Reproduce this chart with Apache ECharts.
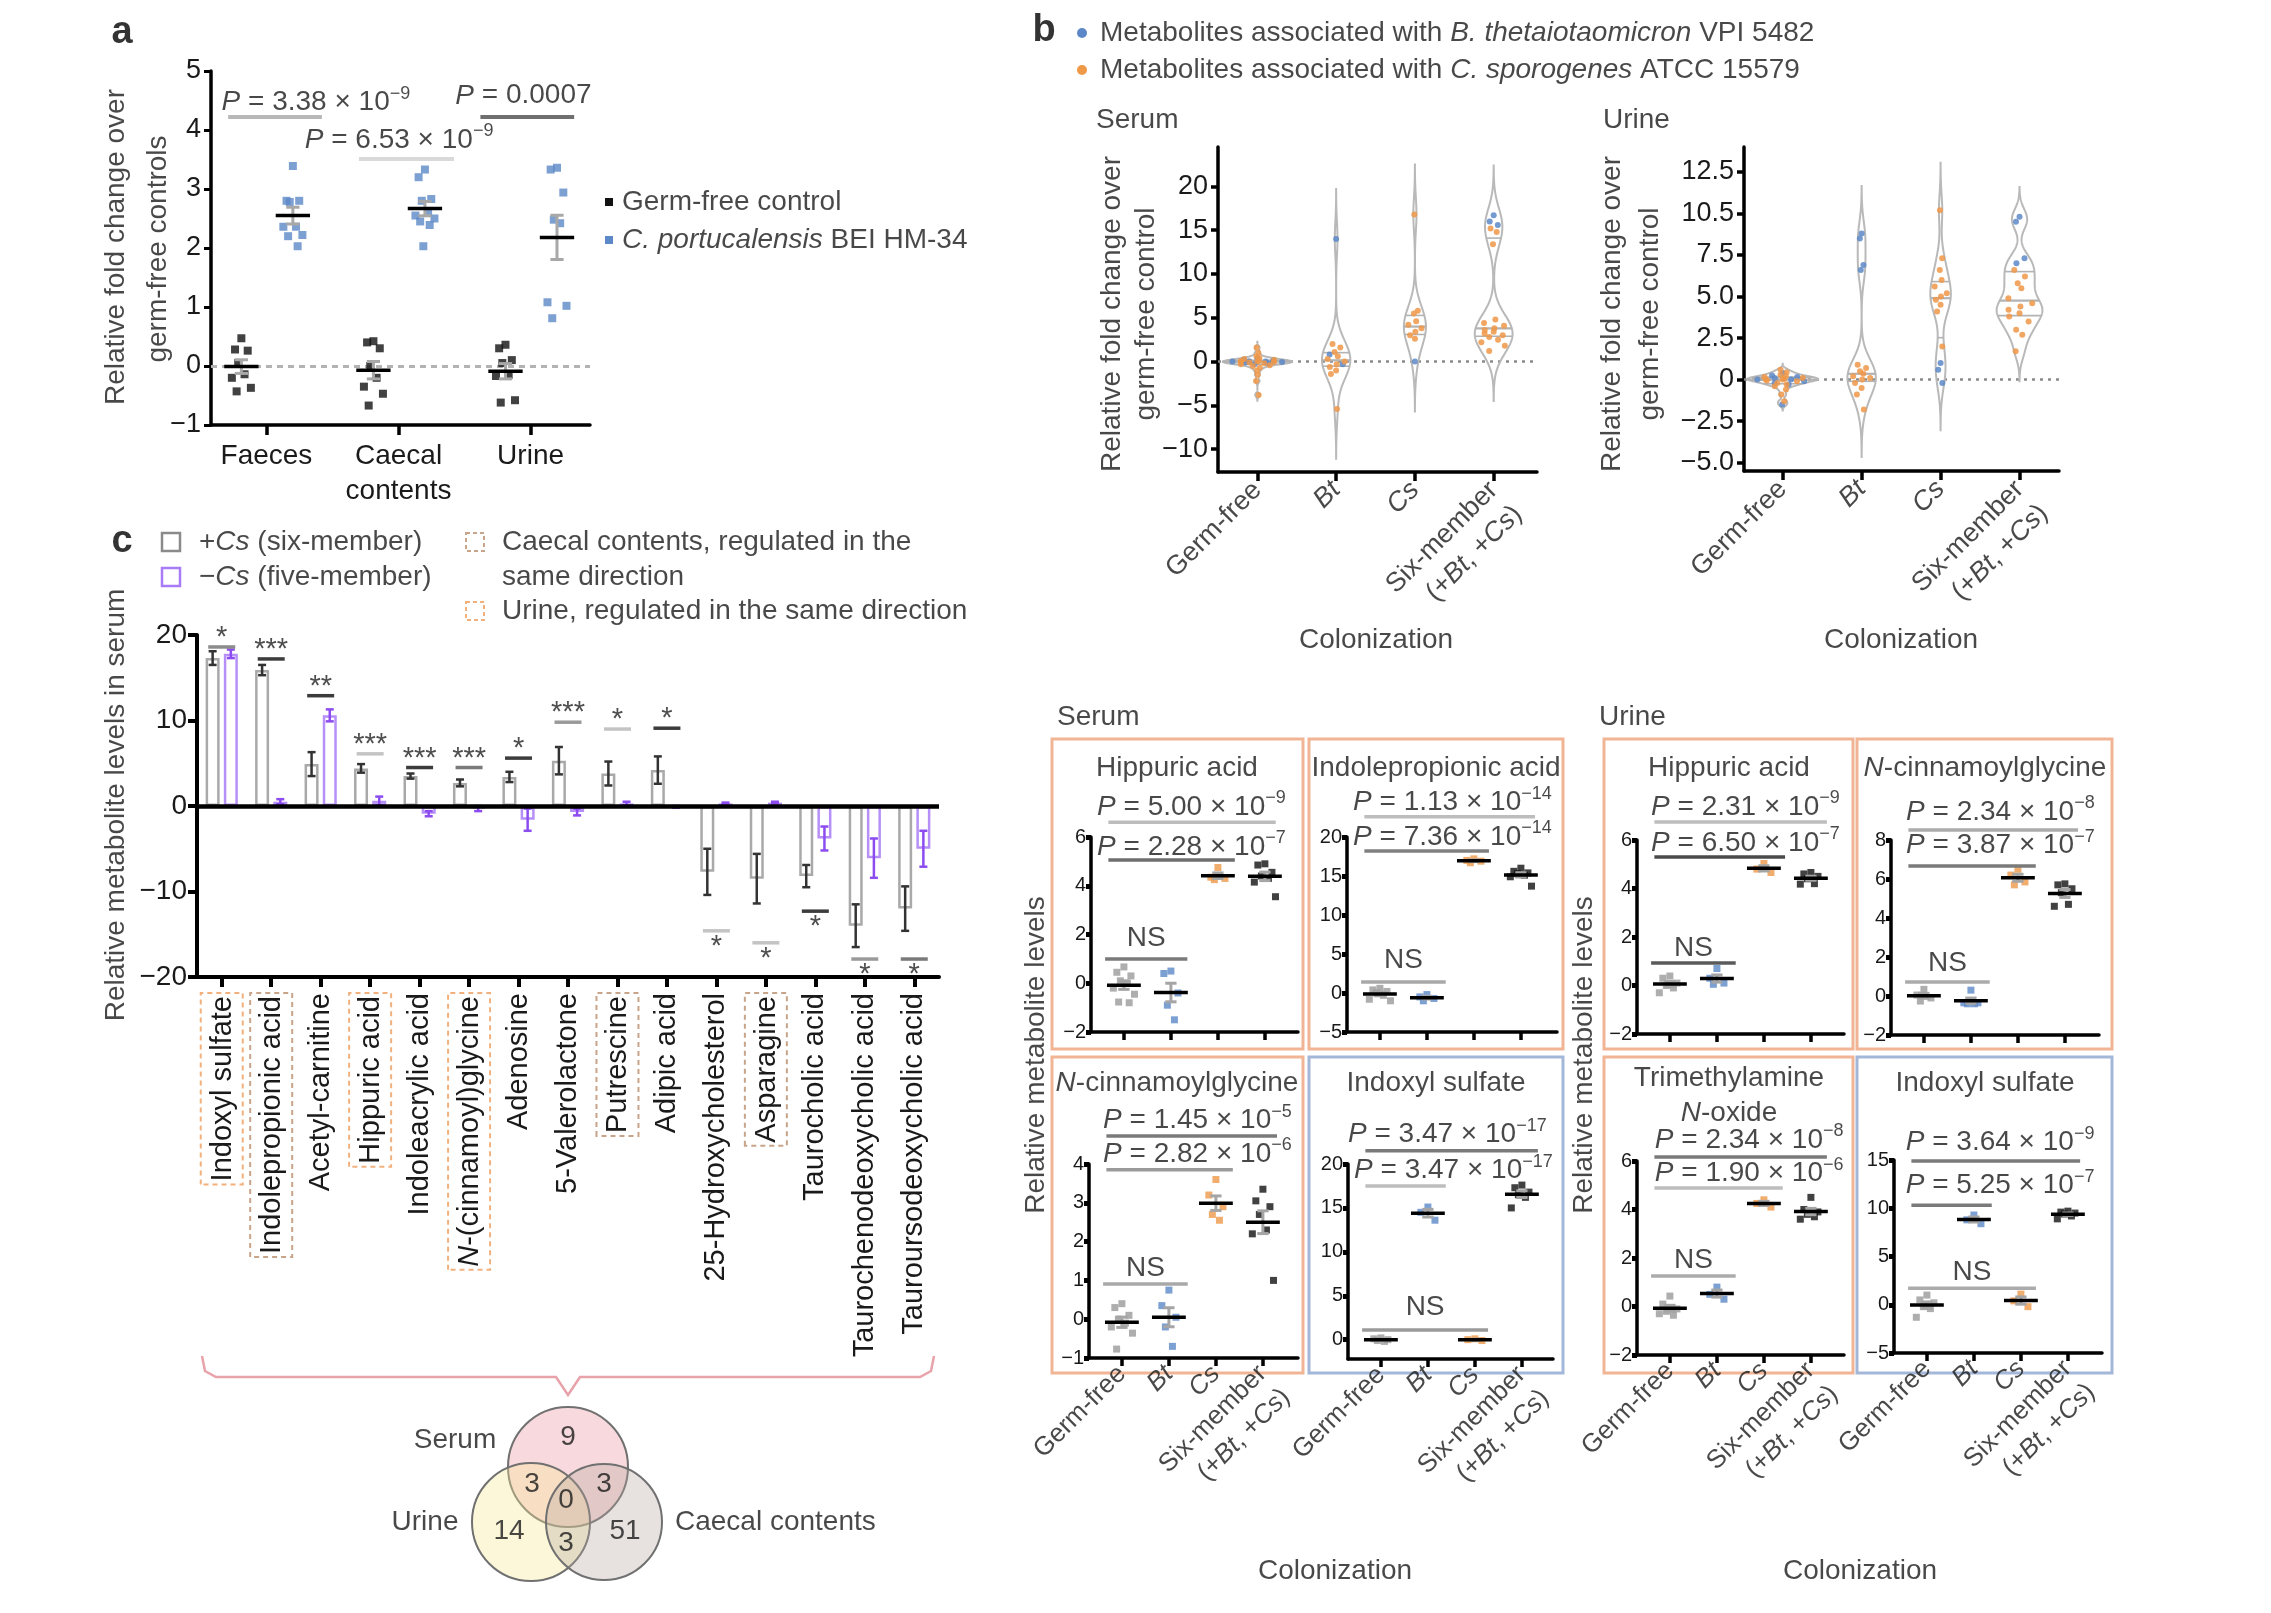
<!DOCTYPE html>
<html>
<head>
<meta charset="utf-8">
<title>Figure</title>
<script src="https://cdn.jsdelivr.net/npm/echarts@6.0.0/dist/echarts.min.js"></script>
<style>
html,body{margin:0;padding:0;background:#fff;}
#chart{width:2271px;height:1613px;}
</style>
</head>
<body>
<div id="chart"></div>
<script>
// ===================== DATA =====================
// ---- Panel a ----
const aCategories = ['Faeces', 'Caecal\ncontents', 'Urine'];
const aGermFree = [
  [0.47, 0.28, 0.26, 0.05, -0.14, -0.2, -0.37, -0.43],
  [0.42, 0.4, 0.3, 0.0, -0.2, -0.35, -0.47, -0.67],
  [0.36, 0.3, 0.1, 0.05, -0.15, -0.17, -0.58, -0.62]
];
const aPortucalensis = [
  [3.39, 2.8, 2.8, 2.78, 2.36, 2.36, 2.22, 2.2, 2.03],
  [3.33, 3.2, 2.83, 2.8, 2.6, 2.55, 2.5, 2.45, 2.39, 2.03],
  [3.36, 3.33, 2.94, 2.48, 2.42, 1.08, 1.02, 0.81]
];
const aPValues = ['3.38 × 10^−9', '6.53 × 10^−9', '0.0007'];

// ---- Panel b : violins ----
const violinGroups = ['Germ-free', 'Bt', 'Cs', 'Six-member\n(+Bt, +Cs)'];
const serumBtMetabolites = [
  [0.35, 0.2, 0.1, 0.05, 0, 0, -0.05, -0.1, -0.2, -0.3],
  [14.0, 0.8, -0.3],
  [0.0],
  [16.7, 16.0, 15.6]
];
const serumCsMetabolites = [
  [1.6, 1.0, 0.6, 0.4, 0.3, 0.2, 0.1, 0.05, 0, 0, -0.05, -0.1, -0.2, -0.3, -0.4, -0.5, -0.7, -1.0, -1.5, -2.2, -3.8],
  [2.0, 1.6, 1.1, 0.6, 0.3, 0.0, -0.3, -0.6, -1.0, -1.4, -5.4],
  [16.8, 5.8, 5.5, 4.6, 4.2, 3.8, 3.4, 3.0, 2.6],
  [15.2, 14.8, 13.4, 4.8, 4.4, 4.1, 3.8, 3.6, 3.4, 3.2, 3.0, 2.8, 2.5, 2.2, 1.8, 1.2]
];
const urineBtMetabolites = [
  [0.4, 0.25, 0.15, 0.1, 0, 0, -0.1, -0.2, -0.3, -1.5],
  [8.8, 8.5, 6.9, 6.6],
  [1.0, 0.6, -0.2],
  [9.8, 9.5, 7.3, 7.0]
];
const urineCsMetabolites = [
  [0.6, 0.45, 0.3, 0.2, 0.15, 0.1, 0.05, 0, 0, -0.05, -0.1, -0.2, -0.3, -0.4, -0.6, -0.9, -1.3],
  [0.9, 0.7, 0.5, 0.35, 0.2, 0.1, 0.0, -0.2, -0.5, -0.9, -1.8],
  [10.2, 7.3, 6.6, 6.0, 5.6, 5.2, 5.0, 4.8, 4.5, 4.1, 2.0],
  [6.6, 6.2, 5.8, 5.5, 4.9, 4.6, 4.4, 4.2, 4.0, 3.8, 3.5, 3.0, 2.7, 1.7]
];

// ---- Panel b : single metabolites (serum x4, urine x4) ----
const smallTitles = ['Hippuric acid', 'Indolepropionic acid', 'N-cinnamoylglycine', 'Indoxyl sulfate',
                     'Hippuric acid', 'N-cinnamoylglycine', 'Trimethylamine\nN-oxide', 'Indoxyl sulfate'];
const smallGermFree = [
  [0.67, 0.45, 0.3, 0.1, 0, -0.2, -0.45, -0.77, -0.8],
  [0.6, 0.4, 0.2, 0, -0.3, -0.8, -1.0],
  [0.4, 0.3, 0.1, 0, -0.1, -0.2, -0.36, -0.77],
  [0.2, 0.1, 0, -0.1, -0.2],
  [0.39, 0.3, 0.1, 0, -0.1, -0.3],
  [0.34, 0.05, -0.1, -0.26],
  [0.43, 0.1, -0.1, -0.2, -0.36, -0.3],
  [1.0, 0.5, 0.2, -0.2, -0.4, -1.3]
];
const smallBt = [
  [0.5, 0.4, -0.4, -0.9, -1.5],
  [-0.2, -0.5, -0.7, -1.0],
  [0.75, 0.35, 0.05, -0.2, -0.7],
  [15.1, 14.5, 13.6],
  [0.7, 0.3, 0.1, 0.05],
  [0.3, -0.35, -0.35, -0.4, -0.4],
  [0.8, 0.5, 0.3],
  [9.3, 8.8, 8.4]
];
const smallCs = [
  [4.75, 4.35, 4.3, 4.25],
  [17.2, 17.0, 16.9, 16.7],
  [3.6, 3.2, 2.9, 2.7, 2.55],
  [0.1, 0, -0.1],
  [5.03, 4.8, 4.66],
  [6.5, 6.2, 5.85, 5.7],
  [4.4, 4.25, 4.1],
  [1.1, 0.4, -0.2]
];
const smallSix = [
  [4.9, 4.85, 4.55, 4.4, 4.3, 4.15, 3.55],
  [16.0, 15.6, 15.4, 15.3, 15.1, 14.9, 13.7],
  [3.35, 3.05, 2.9, 2.7, 2.3, 2.2, 1.0],
  [17.6, 17.3, 16.8, 16.5, 16.2, 15.0],
  [4.66, 4.6, 4.5, 4.4, 4.2, 4.18],
  [5.75, 5.7, 5.5, 5.3, 4.7, 4.6],
  [4.5, 4.0, 3.9, 3.8, 3.7, 3.6],
  [9.7, 9.6, 9.5, 9.4, 9.2, 8.9]
];
const smallP1 = ['5.00 × 10^−9', '1.13 × 10^−14', '1.45 × 10^−5', '3.47 × 10^−17',
                 '2.31 × 10^−9', '2.34 × 10^−8', '2.34 × 10^−8', '3.64 × 10^−9'];
const smallP2 = ['2.28 × 10^−7', '7.36 × 10^−14', '2.82 × 10^−6', '3.47 × 10^−17',
                 '6.50 × 10^−7', '3.87 × 10^−7', '1.90 × 10^−6', '5.25 × 10^−7'];

// ---- Panel c ----
const cMetabolites = ['Indoxyl sulfate', 'Indolepropionic acid', 'Acetyl-carnitine', 'Hippuric acid',
  'Indoleacrylic acid', 'N-(cinnamoyl)glycine', 'Adenosine', '5-Valerolactone', 'Putrescine', 'Adipic acid',
  '25-Hydroxycholesterol', 'Asparagine', 'Taurocholic acid', 'Taurochenodeoxycholic acid', 'Tauroursodeoxycholic acid'];
const cSixMean = [17.3, 15.9, 4.9, 4.4, 3.5, 2.7, 3.4, 5.3, 3.8, 4.2, -7.7, -8.5, -8.2, -14.0, -12.0];
const cSixSem  = [0.8, 0.6, 1.4, 0.5, 0.3, 0.4, 0.6, 1.6, 1.4, 1.6, 2.7, 2.9, 1.3, 2.5, 2.6];
const cFiveMean = [17.8, 0.5, 10.6, 0.6, -0.9, -0.3, -1.6, -0.7, 0.3, -0.1, 0.3, 0.4, -3.8, -6.1, -5.0];
const cFiveSem  = [0.5, 0.3, 0.7, 0.5, 0.3, 0.3, 1.3, 0.4, 0.2, 0.1, 0.1, 0.1, 1.4, 2.3, 2.1];
const cSignificance = ['*', '***', '**', '***', '***', '***', '*', '***', '*', '*', '*', '*', '*', '*', '*'];
const cUrineSameDirection  = [1,0,0,1,0,1,0,0,0,0,0,0,0,0,0];
const cCaecalSameDirection = [0,1,0,0,0,0,0,0,1,0,0,1,0,0,0];
const vennLabels = ['Serum', 'Urine', 'Caecal contents'];
const vennCounts = [9, 3, 3, 0, 14, 51, 3]; // S, S∩U, S∩C, S∩U∩C, U, C, U∩C

// ===================== STYLE / LAYOUT =====================
const FONT = '"Liberation Sans", Arial, Helvetica, sans-serif';
const TXT = '#1a1a1a';
const BLUE = '#5d88c8', ORANGE = '#ee9848', GREYPT = '#9a9a9a', PURPLE = '#a77cf6';
const JIT = [0, -0.6, 0.6, -0.3, 0.3, -0.9, 0.9, -0.45, 0.45, -0.15, 0.15, -0.75, 0.75, 0.05, -0.6];

function rt(fs, color) {
  color = color || TXT;
  const lh = Math.round(fs * 1.25);
  const sf = Math.round(fs * 0.64);
  return {
    n: {fontSize: fs, fontFamily: FONT, color: color, lineHeight: lh},
    i: {fontSize: fs, fontFamily: FONT, color: color, lineHeight: lh, fontStyle: 'italic'},
    s: {fontSize: sf, fontFamily: FONT, color: color, lineHeight: sf, verticalAlign: 'top'},
    L: {fontSize: 38, fontFamily: FONT, color: '#000', fontWeight: 'bold', lineHeight: 44},
    g: {fontSize: 20, fontFamily: FONT, color: color, lineHeight: 22}
  };
}
function fmtNum(v) { return v < 0 ? '−' + String(Math.abs(v)) : String(v); }
function pRich(s) {
  const m = s.split('^');
  return '{i|P}{n| = ' + m[0] + '}' + (m[1] ? '{s|' + m[1] + '}' : '');
}
function R(str, italics) {
  italics = italics || [];
  return str.split('\n').map(function (line) {
    if (!italics.length) return '{n|' + line + '}';
    const re = new RegExp('(' + italics.join('|') + ')');
    return line.split(re).filter(function (t) { return t !== ''; })
      .map(function (t) { return italics.indexOf(t) >= 0 ? '{i|' + t + '}' : '{n|' + t + '}'; }).join('');
  }).join('\n');
}
const mean = a => a.reduce((s, v) => s + v, 0) / a.length;
const sem = a => { const m = mean(a); return Math.sqrt(a.reduce((s, v) => s + (v - m) * (v - m), 0) / (a.length - 1)) / Math.sqrt(a.length); };

const grids = [], xAxes = [], yAxes = [], series = [], graphics = [];
function addGrid(r, xo, yo) {
  const gi = grids.length;
  grids.push({left: r[0], top: r[1], width: r[2], height: r[3], containLabel: false});
  xAxes.push(Object.assign({gridIndex: gi}, xo));
  yAxes.push(Object.assign({gridIndex: gi}, yo));
  return gi;
}
function line(w) { return {show: true, onZero: false, lineStyle: {color: '#000', width: w}}; }
function catValueAxis(min, max, ticks, labelFn, fs, lw, tl, rot, margin) {
  return {
    type: 'value', min: min, max: max, splitLine: {show: false},
    axisLine: line(lw),
    axisTick: {show: true, customValues: ticks, length: tl, lineStyle: {color: '#000', width: lw}},
    axisLabel: labelFn ? {show: true, customValues: ticks, formatter: labelFn, rich: rt(fs), rotate: rot || 0, margin: margin || 10,
                          hideOverlap: false, showMinLabel: true, showMaxLabel: true}
                       : {show: false}
  };
}
function valueAxis(min, max, interval, custom, fs, lw, tl, tw, margin, fmt, tok) {
  const ax = {
    type: 'value', min: min, max: max, splitLine: {show: false},
    axisLine: line(lw),
    axisTick: {show: true, length: tl, lineStyle: {color: '#000', width: tw}},
    axisLabel: {show: true, margin: margin, rich: rt(fs), formatter: v => '{' + (tok || 'n') + '|' + (fmt ? fmt(v) : fmtNum(v)) + '}'}
  };
  if (interval) ax.interval = interval;
  if (custom) { ax.axisTick.customValues = custom; ax.axisLabel.customValues = custom; }
  return ax;
}
function linesSeries(gi, items, width) {
  return {type: 'custom', xAxisIndex: gi, yAxisIndex: gi, silent: true, z: 4, clip: false,
    data: items.map(it => [it.x1, it.y]),
    renderItem: function (params, api) {
      const it = items[params.dataIndex];
      const a = api.coord([it.x1, it.y]), b = api.coord([it.x2, it.y]);
      return {type: 'line', shape: {x1: a[0], y1: a[1], x2: b[0], y2: b[1]}, style: {stroke: it.c, lineWidth: it.w || width}};
    }};
}
function textSeries(gi, items, fs) {
  return {type: 'scatter', xAxisIndex: gi, yAxisIndex: gi, silent: true, clip: false, z: 8, symbolSize: 1,
    itemStyle: {color: 'rgba(0,0,0,0)'},
    label: {show: true, position: 'inside', verticalAlign: 'middle', formatter: p => items[p.dataIndex].t, rich: rt(fs || 28)},
    data: items.map(it => ({value: [it.x, it.y], label: {align: it.align || 'center', verticalAlign: it.va || 'middle',
      offset: it.off || [0, 0], rotate: it.rot || 0}}))};
}
function meanSemSeries(gi, items, hm, hc, semColor) {
  return {type: 'custom', xAxisIndex: gi, yAxisIndex: gi, silent: true, z: 5, clip: false,
    data: items,
    renderItem: function (params, api) {
      const x = api.value(0), m = api.value(1), se = api.value(2);
      const c = p => api.coord(p);
      const t = c([x, m + se]), b = c([x, m - se]);
      const tl = c([x - hc, m + se]), tr = c([x + hc, m + se]);
      const bl = c([x - hc, m - se]), br = c([x + hc, m - se]);
      const ml = c([x - hm, m]), mr = c([x + hm, m]);
      return {type: 'group', children: [
        {type: 'line', shape: {x1: t[0], y1: t[1], x2: b[0], y2: b[1]}, style: {stroke: semColor, lineWidth: 3}},
        {type: 'line', shape: {x1: tl[0], y1: tl[1], x2: tr[0], y2: tr[1]}, style: {stroke: semColor, lineWidth: 3}},
        {type: 'line', shape: {x1: bl[0], y1: bl[1], x2: br[0], y2: br[1]}, style: {stroke: semColor, lineWidth: 3}},
        {type: 'line', shape: {x1: ml[0], y1: ml[1], x2: mr[0], y2: mr[1]}, style: {stroke: '#000', lineWidth: 3.5}}
      ]};
    }};
}
const groupLabel = v => R(violinGroups[Math.round(v)], ['Bt', 'Cs']);
// rotated group labels (the two-line label hangs below its tick, as in the reference)
function groupLabelItems(yLab) {
  return [0, 1, 2, 3].map(g => ({x: g, y: yLab, t: groupLabel(g), align: 'right', rot: 45,
    va: g === 3 ? 'top' : 'middle', off: g === 3 ? [0, -17] : [0, 0]}));
}

// ===================== PANEL a =====================
const gA = addGrid([211, 71, 379, 354],
  catValueAxis(-0.42, 2.45, [0, 1, 2], v => R(aCategories[Math.round(v)]), 28, 3.5, 10, 0, 14),
  valueAxis(-1, 5, 1, null, 27, 3.5, 7, 3, 10));
xAxes[gA].axisLabel.lineHeight = 33;
const aGFPts = [], aCpPts = [];
aGermFree.forEach((arr, c) => arr.forEach((v, k) => aGFPts.push([c - 0.19 + JIT[k % JIT.length] * 0.08, v])));
aPortucalensis.forEach((arr, c) => arr.forEach((v, k) => aCpPts.push([c + 0.2 + JIT[k % JIT.length] * 0.08, v])));
series.push({type: 'scatter', xAxisIndex: gA, yAxisIndex: gA, symbol: 'rect', symbolSize: 8, z: 3,
  itemStyle: {color: '#111'}, data: aGFPts,
  markLine: {silent: true, symbol: 'none', label: {show: false}, z: 1,
    lineStyle: {color: '#b3b3b3', width: 3, type: [6, 5]}, data: [{yAxis: 0}]}});
series.push({type: 'scatter', xAxisIndex: gA, yAxisIndex: gA, symbol: 'rect', symbolSize: 8, z: 3,
  itemStyle: {color: BLUE}, data: aCpPts});
const aStats = [];
aGermFree.forEach((arr, c) => aStats.push([c - 0.19, mean(arr), sem(arr)]));
aPortucalensis.forEach((arr, c) => aStats.push([c + 0.2, mean(arr), sem(arr)]));
series.push(meanSemSeries(gA, aStats, 0.13, 0.05, '#a8a8a8'));
const aBrackets = [
  {x1: -0.29, x2: 0.42, y: 4.22, c: '#b8b8b8', tx: -0.34, ty: 4.47},
  {x1: 0.70, x2: 1.42, y: 3.51, c: '#d9d9d9', tx: 0.29, ty: 3.83},
  {x1: 1.62, x2: 2.33, y: 4.22, c: '#6f6f6f', tx: 1.43, ty: 4.58}
];
series.push(linesSeries(gA, aBrackets, 4));
series.push(textSeries(gA, aBrackets.map((b, i) => ({x: b.tx, y: b.ty, t: pRich(aPValues[i]), align: 'left'}))));

// ===================== PANEL b : violins =====================
function kdeFn(vals, h) { return y => { let d = 0; for (const v of vals) { const z = (y - v) / h; d += Math.exp(-0.5 * z * z); } return d; }; }
function buildViolins(blueArr, orangeArr, bws, halves) {
  return blueArr.map((b, g) => {
    const vals = b.concat(orangeArr[g]); const h = bws[g];
    const f = kdeFn(vals, h);
    const lo = Math.min.apply(null, vals) - 3 * h, hi = Math.max.apply(null, vals) + 3 * h;
    const prof = []; let mx = 0;
    for (let k = 0; k <= 240; k++) { const y = lo + (hi - lo) * k / 240; const d = f(y); prof.push([y, d]); if (d > mx) mx = d; }
    const s = vals.slice().sort((p, q) => p - q);
    const q = p => { const pos = (s.length - 1) * p, i = Math.floor(pos), fr = pos - i; return s[i] + (s[Math.min(i + 1, s.length - 1)] - s[i]) * fr; };
    return {prof: prof.map(p => [p[0], p[1] / mx]), w: y => f(y) / mx, half: halves[g], quarts: [q(0.25), q(0.5), q(0.75)]};
  });
}
function violinSeries(gi, V) {
  return {type: 'custom', xAxisIndex: gi, yAxisIndex: gi, silent: true, z: 2, clip: false,
    data: V.map((_, g) => [g, 0]),
    renderItem: function (params, api) {
      const g = params.dataIndex, v = V[g];
      const right = v.prof.map(p => api.coord([g + v.half * p[1], p[0]]));
      const left = v.prof.map(p => api.coord([g - v.half * p[1], p[0]])).reverse();
      const ch = [{type: 'polygon', shape: {points: right.concat(left)}, style: {fill: 'rgba(255,255,255,0)', stroke: '#b9b9b9', lineWidth: 2}}];
      v.quarts.forEach((qv, k) => {
        const d = v.w(qv) * v.half;
        const a = api.coord([g - d, qv]), b = api.coord([g + d, qv]);
        ch.push({type: 'line', shape: {x1: a[0], y1: a[1], x2: b[0], y2: b[1]}, style: {stroke: '#b3b3b3', lineWidth: k === 1 ? 2.2 : 1.6}});
      });
      return {type: 'group', children: ch};
    }};
}
function violinPanel(rect, xr, yr, yTicks, yFmt, blueArr, orangeArr, bws, halves) {
  const gi = addGrid(rect,
    catValueAxis(xr[0], xr[1], [0, 1, 2, 3], null, 27, 3.5, 9, 45, 12),
    valueAxis(yr[0], yr[1], null, yTicks, 27, 3.5, 7, 3.5, 10, yFmt));
  const V = buildViolins(blueArr, orangeArr, bws, halves);
  series.push(violinSeries(gi, V));
  [[blueArr, BLUE, 0], [orangeArr, ORANGE, 7]].forEach(function (spec, si) {
    const pts = [];
    spec[0].forEach((arr, g) => arr.forEach((val, k) => {
      const off = JIT[(k + spec[2]) % JIT.length] * V[g].half * V[g].w(val) * 0.8;
      pts.push([g + off, val]);
    }));
    const s = {type: 'scatter', xAxisIndex: gi, yAxisIndex: gi, symbol: 'circle', symbolSize: 6, z: 3, silent: true,
      itemStyle: {color: spec[1], opacity: 0.85}, data: pts};
    if (si === 0) s.markLine = {silent: true, symbol: 'none', label: {show: false}, z: 1,
      lineStyle: {color: '#8a8a8a', width: 2.5, type: [3, 5]}, data: [{yAxis: 0}]};
    series.push(s);
  });
  series.push(textSeries(gi, groupLabelItems(yr[0] - 14 * (yr[1] - yr[0]) / rect[3]), 27));
  return gi;
}
violinPanel([1218, 147, 319, 325], [-0.5, 3.55], [-12.6, 24.5], [-10, -5, 0, 5, 10, 15, 20], null,
  serumBtMetabolites, serumCsMetabolites, [0.22, 1.9, 1.9, 1.9], [0.44, 0.18, 0.14, 0.24]);
violinPanel([1744, 147, 315, 324], [-0.49, 3.5], [-5.5, 14], [-5, -2.5, 0, 2.5, 5, 7.5, 10, 12.5],
  v => v === 0 ? '0' : (v === 10 ? '10.5' : (v < 0 ? '−' + Math.abs(v).toFixed(1) : v.toFixed(1))),
  urineBtMetabolites, urineCsMetabolites, [0.12, 0.95, 0.95, 0.6], [0.45, 0.18, 0.13, 0.29]);

// ===================== PANEL b : small panels =====================
const SMALL_GRIDS = [
  [1091, 837, 207, 195], [1347, 837, 210, 195], [1089, 1164, 209, 194], [1348, 1164, 205, 195],
  [1637, 840, 207, 194], [1891, 840, 208, 195], [1637, 1161, 207, 194], [1894, 1160, 208, 193]
];
const SMALL_Y = [[-2, 6, 2], [-5, 20, 5], [-1, 4, 1], [-2.2, 20, 0], [-2, 6, 2], [-2, 8, 2], [-2, 6, 2], [-5, 15, 5]];
const SMALL_BOTTOM = [false, false, true, true, false, false, true, true];
const SMALL_TITLE_POS = [[1177, 768], [1436, 768], [1177, 1083], [1436, 1083], [1729, 768], [1985, 768], [1729, 1096], [1985, 1083]];
const SMALL_ANN = [
  {p1: [6.61, 3.23, '#bdbdbd'], p2: [5.06, 2.36, '#6e6e6e'], ns: [1.0, 1.35, '#7a7a7a', 1.86], t1: [7.23, -0.57], t2: [5.59, -0.57]},
  {p1: [22.6, 3.3, '#bdbdbd'], p2: [18.2, 2.32, '#808080'], ns: [1.4, 1.4, '#a8a8a8', 4.2], t1: [24.4, -0.57], t2: [20.0, -0.57]},
  {p1: [4.72, 3.3, '#7a7a7a'], p2: [3.85, 2.36, '#9a9a9a'], ns: [0.91, 1.4, '#a8a8a8', 1.32], t1: [5.13, -0.4], t2: [4.26, -0.4]},
  {p1: [21.5, 3.34, '#7a7a7a'], p2: [17.5, 1.38, '#bdbdbd'], ns: [1.1, 2.28, '#9a9a9a', 3.7], t1: [23.4, -0.7], t2: [19.3, -0.57]},
  {p1: [6.74, 3.34, '#bdbdbd'], p2: [5.3, 2.45, '#4a4a4a'], ns: [0.93, 1.4, '#5a5a5a', 1.55], t1: [7.36, -0.4], t2: [5.88, -0.4]},
  {p1: [8.51, 3.28, '#ababab'], p2: [6.67, 2.38, '#7a7a7a'], ns: [0.72, 1.4, '#ababab', 1.69], t1: [9.44, -0.38], t2: [7.74, -0.38]},
  {p1: [6.16, 3.34, '#7a7a7a'], p2: [4.89, 2.4, '#bdbdbd'], ns: [1.26, 1.4, '#ababab', 1.92], t1: [6.87, -0.32], t2: [5.5, -0.32]},
  {p1: [14.9, 3.26, '#7a7a7a'], p2: [10.3, 1.38, '#7a7a7a'], ns: [1.7, 2.32, '#ababab', 3.4], t1: [16.8, -0.45], t2: [12.4, -0.45]}
];
SMALL_GRIDS.forEach(function (r, p) {
  const yc = SMALL_Y[p];
  const xmax = -0.7 + r[2] / 47;
  const yAx = valueAxis(yc[0], yc[1], yc[2] || null, yc[2] ? null : [0, 5, 10, 15, 20], 20, 3.5, 5, 5, 5, null, 'g');
  const gi = addGrid(r, catValueAxis(-0.7, xmax, [0, 1, 2, 3], null, 26, 3.5, 8, 45, 10), yAx);
  const groups = [smallGermFree[p], smallBt[p], smallCs[p], smallSix[p]];
  const colors = [GREYPT, BLUE, ORANGE, '#111'];
  groups.forEach(function (arr, g) {
    series.push({type: 'scatter', xAxisIndex: gi, yAxisIndex: gi, symbol: 'rect', symbolSize: 7, z: 3, silent: true,
      itemStyle: {color: colors[g]}, data: arr.map((v, k) => [g + JIT[k % JIT.length] * 0.25, v])});
  });
  series.push(meanSemSeries(gi, groups.map((arr, g) => [g, mean(arr), sem(arr)]), 0.36, 0.12, '#a5a5a5'));
  const A = SMALL_ANN[p];
  series.push(linesSeries(gi, [
    {x1: -0.33, x2: A.p1[1], y: A.p1[0], c: A.p1[2]},
    {x1: -0.33, x2: A.p2[1], y: A.p2[0], c: A.p2[2]},
    {x1: -0.4, x2: A.ns[1], y: A.ns[0], c: A.ns[2]}], 3.5));
  series.push(textSeries(gi, [
    {x: A.t1[1], y: A.t1[0], t: pRich(smallP1[p]), align: 'left'},
    {x: A.t2[1], y: A.t2[0], t: pRich(smallP2[p]), align: 'left'},
    {x: (-0.4 + A.ns[1]) / 2, y: A.ns[3], t: '{n|NS}'}]));
  if (SMALL_BOTTOM[p]) {
    series.push(textSeries(gi, groupLabelItems(yc[0] - 12 * (yc[1] - yc[0]) / r[3]), 26));
  }
});

// ===================== PANEL c =====================
const URINE_BOX = '#f2b07c', CAECAL_BOX = '#c7a48a';
const gC = addGrid([197, 635, 742, 342],
  {type: 'category', boundaryGap: true,
   data: cMetabolites.map((m, i) => {
     const item = {value: m};
     if (cUrineSameDirection[i] || cCaecalSameDirection[i]) {
       item.textStyle = {borderColor: cUrineSameDirection[i] ? URINE_BOX : CAECAL_BOX, borderWidth: 2,
         borderType: [5, 4], padding: [4, 3, 2, 3]};
     }
     return item;
   }),
   axisLine: line(4),
   axisTick: {show: true, alignWithLabel: true, length: 10, lineStyle: {color: '#000', width: 4}},
   axisLabel: {show: true, interval: 0, rotate: 90, margin: 16, rich: rt(29), formatter: v => R(v, ['N'])}},
  valueAxis(-20, 20, 10, null, 28, 4, 9, 4, 10));
series.push({type: 'bar', xAxisIndex: gC, yAxisIndex: gC, data: cSixMean, barWidth: 14, barGap: '30%', z: 2, silent: true,
  itemStyle: {color: 'rgba(255,255,255,0)', borderColor: '#a9a9a9', borderWidth: 2.5},
  markLine: {silent: true, symbol: 'none', label: {show: false}, z: 6, lineStyle: {color: '#000', width: 4.5, type: 'solid'}, data: [{yAxis: 0}]}});
series.push({type: 'bar', xAxisIndex: gC, yAxisIndex: gC, data: cFiveMean, barWidth: 14, barGap: '30%', z: 2, silent: true,
  itemStyle: {color: 'rgba(255,255,255,0)', borderColor: '#b690f8', borderWidth: 2.5}});
series.push({type: 'custom', xAxisIndex: gC, yAxisIndex: gC, silent: true, z: 5,
  data: cSixMean.map((v, i) => [i, v]),
  renderItem: function (params, api) {
    const i = params.dataIndex, ch = [];
    [[cSixMean, cSixSem, -9.1, '#333333'], [cFiveMean, cFiveSem, 9.1, '#8c4cf0']].forEach(function (s) {
      const t = api.coord([i, s[0][i] + s[1][i]]), b = api.coord([i, s[0][i] - s[1][i]]);
      const x = t[0] + s[2];
      ch.push({type: 'line', shape: {x1: x, y1: t[1], x2: x, y2: b[1]}, style: {stroke: s[3], lineWidth: 2.5}});
      ch.push({type: 'line', shape: {x1: x - 4, y1: t[1], x2: x + 4, y2: t[1]}, style: {stroke: s[3], lineWidth: 2.5}});
      ch.push({type: 'line', shape: {x1: x - 4, y1: b[1], x2: x + 4, y2: b[1]}, style: {stroke: s[3], lineWidth: 2.5}});
    });
    return {type: 'group', children: ch};
  }});
const cSigLineY = [18.6, 17.2, 12.9, 6.1, 4.5, 4.5, 5.6, 9.8, 9.0, 9.1, -14.6, -16.0, -12.3, -17.9, -17.9];
const cSigLineColor = ['#8c8c8c', '#3c3c3c', '#3c3c3c', '#c4c4c4', '#3c3c3c', '#7a7a7a', '#3c3c3c', '#9a9a9a',
                       '#c4c4c4', '#3c3c3c', '#c4c4c4', '#c4c4c4', '#3c3c3c', '#9a9a9a', '#7a7a7a'];
series.push({type: 'custom', xAxisIndex: gC, yAxisIndex: gC, silent: true, z: 5,
  data: cSigLineY.map((y, i) => [i, y]),
  renderItem: function (params, api) {
    const i = params.dataIndex, c = api.coord([i, cSigLineY[i]]);
    return {type: 'line', shape: {x1: c[0] - 13.5, y1: c[1], x2: c[0] + 13.5, y2: c[1]}, style: {stroke: cSigLineColor[i], lineWidth: 3.5}};
  }});
series.push({type: 'scatter', xAxisIndex: gC, yAxisIndex: gC, silent: true, clip: false, z: 8, symbolSize: 1,
  itemStyle: {color: 'rgba(0,0,0,0)'},
  label: {show: true, position: 'inside', align: 'center', verticalAlign: 'middle', fontSize: 29, fontFamily: FONT, color: '#222',
    formatter: p => cSignificance[p.dataIndex]},
  data: cSigLineY.map((y, i) => ({value: [i, y], label: {offset: [0, y > 0 ? -9 : 16]}}))});

// ===================== FREE TEXT (overlay layer) =====================
const OV = [];
function T(x, y, t, align, rot) { OV.push({x: x, y: y, t: t, align: align || 'center', rot: rot || 0}); }
T(122, 33, '{L|a}');
T(116, 247, '{n|Relative fold change over}', 'center', 90);
T(158, 249, '{n|germ-free controls}', 'center', 90);
T(622, 202, '{n|Germ-free control}', 'left');
T(622, 240, '{i|C. portucalensis}{n| BEI HM-34}', 'left');
T(1044, 31, '{L|b}');
T(1100, 33, '{n|Metabolites associated with }{i|B. thetaiotaomicron}{n| VPI 5482}', 'left');
T(1100, 70, '{n|Metabolites associated with }{i|C. sporogenes}{n| ATCC 15579}', 'left');
T(1096, 120, '{n|Serum}', 'left');
T(1603, 120, '{n|Urine}', 'left');
T(1112, 314, '{n|Relative fold change over}', 'center', 90);
T(1146, 314, '{n|germ-free control}', 'center', 90);
T(1612, 314, '{n|Relative fold change over}', 'center', 90);
T(1650, 314, '{n|germ-free control}', 'center', 90);
T(1376, 640, '{n|Colonization}');
T(1901, 640, '{n|Colonization}');
T(1057, 717, '{n|Serum}', 'left');
T(1599, 717, '{n|Urine}', 'left');
T(1036, 1055, '{n|Relative metabolite levels}', 'center', 90);
T(1584, 1055, '{n|Relative metabolite levels}', 'center', 90);
smallTitles.forEach((t, p) => T(SMALL_TITLE_POS[p][0], SMALL_TITLE_POS[p][1], R(t, ['N'])));
T(1335, 1571, '{n|Colonization}');
T(1860, 1571, '{n|Colonization}');
T(122, 542, '{L|c}');
T(199, 542, '{n|+}{i|Cs}{n| (six-member)}', 'left');
T(199, 577, '{n|−}{i|Cs}{n| (five-member)}', 'left');
T(502, 542, '{n|Caecal contents, regulated in the}', 'left');
T(502, 577, '{n|same direction}', 'left');
T(502, 611, '{n|Urine, regulated in the same direction}', 'left');
T(116, 805, '{n|Relative metabolite levels in serum}', 'center', 90);
T(455, 1440, '{n|' + vennLabels[0] + '}');
T(425, 1522, '{n|' + vennLabels[1] + '}');
T(675, 1522, '{n|' + vennLabels[2] + '}', 'left');
const VENN_NUM_POS = [[568, 1437], [532, 1484], [604, 1484], [566, 1500], [509, 1531], [625, 1531], [566, 1543]];
vennCounts.forEach((n, i) => T(VENN_NUM_POS[i][0], VENN_NUM_POS[i][1], '{n|' + n + '}'));

const gO = addGrid([0, 0, 2271, 1613],
  {type: 'value', min: 0, max: 2271, show: false},
  {type: 'value', min: 0, max: 1613, inverse: true, show: false});
series.push({type: 'scatter', xAxisIndex: gO, yAxisIndex: gO, symbolSize: 1, silent: true, z: 20,
  itemStyle: {color: 'rgba(0,0,0,0)'},
  label: {show: true, position: 'inside', verticalAlign: 'middle', formatter: p => OV[p.dataIndex].t, rich: rt(28)},
  data: OV.map(o => ({value: [o.x, o.y], label: {align: o.align, rotate: o.rot}}))});

// ===================== SHAPES (graphic) =====================
const BOX_RECTS = [[1052, 739, 251, 310], [1309, 739, 254, 310], [1052, 1057, 251, 316], [1309, 1057, 254, 316],
                   [1604, 739, 249, 310], [1857, 739, 255, 310], [1604, 1057, 249, 316], [1857, 1057, 255, 316]];
const BOX_COL = ['#f1b596', '#f1b596', '#f1b596', '#a3b8d8', '#f1b596', '#f1b596', '#f1b596', '#a3b8d8'];
BOX_RECTS.forEach((b, i) => graphics.push({type: 'rect', silent: true, z: 0,
  shape: {x: b[0], y: b[1], width: b[2], height: b[3]}, style: {fill: 'rgba(0,0,0,0)', stroke: BOX_COL[i], lineWidth: 3}}));
graphics.push({type: 'rect', silent: true, shape: {x: 605, y: 198, width: 8, height: 8}, style: {fill: '#111'}});
graphics.push({type: 'rect', silent: true, shape: {x: 605, y: 236, width: 8, height: 8}, style: {fill: BLUE}});
graphics.push({type: 'circle', silent: true, shape: {cx: 1082, cy: 33, r: 5}, style: {fill: BLUE}});
graphics.push({type: 'circle', silent: true, shape: {cx: 1082, cy: 70, r: 5}, style: {fill: ORANGE}});
graphics.push({type: 'rect', silent: true, shape: {x: 162, y: 533, width: 18, height: 18}, style: {fill: '#fff', stroke: '#8a8a8a', lineWidth: 2.5}});
graphics.push({type: 'rect', silent: true, shape: {x: 162, y: 568, width: 18, height: 18}, style: {fill: '#fff', stroke: PURPLE, lineWidth: 2.5}});
graphics.push({type: 'rect', silent: true, shape: {x: 466, y: 533, width: 18, height: 18}, style: {fill: '#fff', stroke: CAECAL_BOX, lineWidth: 2, lineDash: [4, 3]}});
graphics.push({type: 'rect', silent: true, shape: {x: 466, y: 602, width: 18, height: 18}, style: {fill: '#fff', stroke: URINE_BOX, lineWidth: 2, lineDash: [4, 3]}});
graphics.push({type: 'polyline', silent: true, shape: {points: [[202, 1356], [205, 1371], [216, 1377], [556, 1377], [568, 1395],
  [580, 1377], [920, 1377], [931, 1371], [934, 1356]]}, style: {stroke: '#e8a2aa', lineWidth: 2.5, fill: null}});
graphics.push({type: 'circle', silent: true, shape: {cx: 568, cy: 1467, r: 60}, style: {fill: 'rgba(235,150,160,0.35)', stroke: '#707070', lineWidth: 2}});
graphics.push({type: 'circle', silent: true, shape: {cx: 531, cy: 1522, r: 59}, style: {fill: 'rgba(248,232,150,0.35)', stroke: '#707070', lineWidth: 2}});
graphics.push({type: 'circle', silent: true, shape: {cx: 604, cy: 1522, r: 58}, style: {fill: 'rgba(180,165,155,0.32)', stroke: '#707070', lineWidth: 2}});

// ===================== RENDER =====================
const chart = echarts.init(document.getElementById('chart'), null, {renderer: 'canvas', width: 2271, height: 1613});
chart.setOption({
  animation: false,
  backgroundColor: '#ffffff',
  textStyle: {fontFamily: FONT, color: TXT},
  grid: grids,
  xAxis: xAxes,
  yAxis: yAxes,
  series: series,
  graphic: {elements: graphics}
});
</script>
</body>
</html>
